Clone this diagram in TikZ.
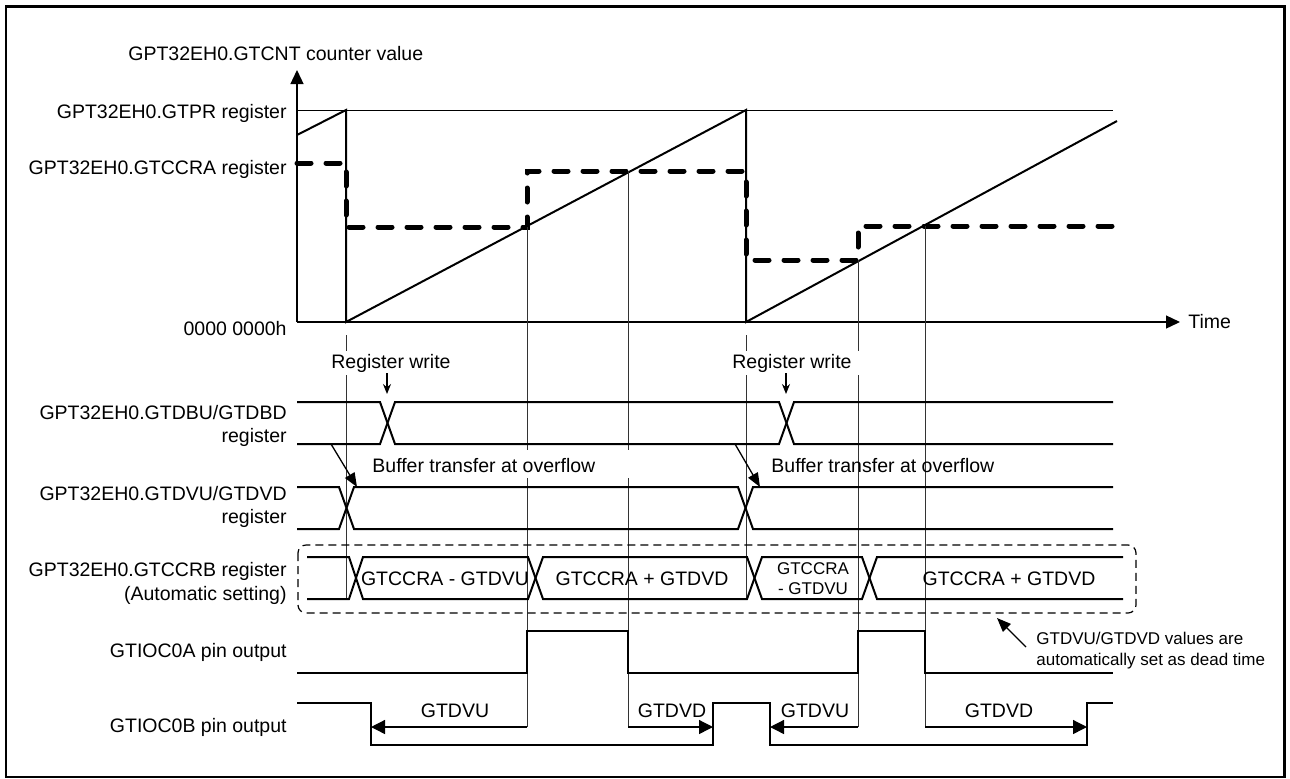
\documentclass[tikz,border=0pt]{standalone}
\usepackage{fontspec}
\setmainfont{Liberation Sans}
\usetikzlibrary{arrows.meta, positioning}

\begin{document}
\begin{tikzpicture}[
    x=0.5pt, y=-0.5pt,
    lbl/.style={inner sep=0pt, font=\fontsize{9.75pt}{11.5pt}\selectfont},
    smalllbl/.style={inner sep=0pt, font=\fontsize{8.5pt}{9.8pt}\selectfont},
    sig/.style={line width=1pt},
    guide/.style={line width=0.5pt, black!80},
    ccra/.style={line width=2.5pt, line cap=round, dash pattern=on 7pt off 7.5pt},
    axisline/.style={line width=0.65pt, -{Triangle[length=7pt, width=6.5pt]}},
    dimarrow/.style={line width=0.65pt, -{Triangle[length=7pt, width=7pt]}},
    ptr/.style={line width=0.65pt, -{Triangle[length=7pt, width=5.5pt]}},
    wrarrow/.style={line width=0.65pt, -{Stealth[length=5pt, width=4pt]}},
    autobox/.style={line width=0.6pt, dash pattern=on 4pt off 2.5pt, rounded corners=4pt}
]
\useasboundingbox (0,0) rectangle (1290,778);
\draw[line width=1.2pt] (6,6.5) rectangle (1284.5,777);

% Coordinates
\coordinate (origin) at (297,322);
\coordinate (ytop) at (297,70);
\coordinate (xend) at (1180,322);

% Nodes
\node[lbl, anchor=base west] (cntlbl) at (128,60) {GPT32EH0.GTCNT counter value};
\node[lbl, anchor=base east] (gtpr) at (287,118) {GPT32EH0.GTPR register};
\node[lbl, anchor=base east] (gtccra) at (287,174) {GPT32EH0.GTCCRA register};
\node[lbl, anchor=base east] (zero) at (287,335) {0000 0000h};
\node[lbl, anchor=base west] (time) at (1188,328) {Time};

\node[lbl, anchor=base east, align=right] (dbu) at (287,442) {GPT32EH0.GTDBU/GTDBD\\register};
\node[lbl, anchor=base east, align=right] (dvu) at (287,523) {GPT32EH0.GTDVU/GTDVD\\register};
\node[lbl, anchor=base east, align=right, font=\fontsize{9.75pt}{12pt}\selectfont] (ccrb) at (287,600) {GPT32EH0.GTCCRB register\\(Automatic setting)};
\node[lbl, anchor=base east] (ioa) at (287,657) {GTIOC0A pin output};
\node[lbl, anchor=base east] (iob) at (287,732) {GTIOC0B pin output};

% Counter, compare value and guides
\draw[line width=0.5pt] (297,110) -- (1113,110);
\draw[sig] (297,135) -- (346,110) -- (346,322) -- (746,110) -- (746,322) -- (1117,121);
\draw[ccra] (297,163) -- (346,163) -- (346,227) -- (527,227) -- (527,171) -- (746,171)
    -- (746,260) -- (858,260) -- (858,226) -- (1113,226);
\draw[axisline] (origin) -- (ytop);
\draw[axisline] (origin) -- (xend);

\draw[guide] (346,335) -- (346,600);
\draw[guide] (746,335) -- (746,600);
\draw[guide] (527,227) -- (527,450) (527,478) -- (527,727);
\draw[guide] (628,171) -- (628,450) (628,478) -- (628,727);
\draw[guide] (858,260) -- (858,727);
\draw[guide] (925,226) -- (925,727);

% Register write
\node[lbl, anchor=base, fill=white, inner xsep=4pt, inner ysep=1.5pt] (wr1) at (391,368) {Register write};
\node[lbl, anchor=base, fill=white, inner xsep=4pt, inner ysep=1.5pt] (wr2) at (792,368) {Register write};
\coordinate (wr1s) at (387,373);
\coordinate (wr1e) at (387,394);
\coordinate (wr2s) at (786,373);
\coordinate (wr2e) at (786,394);
\draw[wrarrow] (wr1s) -- (wr1e);
\draw[wrarrow] (wr2s) -- (wr2e);

% Buffer rows
\draw[sig] (297,402) -- (380,402) -- (395,444) -- (779,444) -- (794,402) -- (1113,402);
\draw[sig] (297,444) -- (380,444) -- (395,402) -- (779,402) -- (794,444) -- (1113,444);
\draw[sig] (297,487) -- (339,487) -- (354,529) -- (738,529) -- (753,487) -- (1113,487);
\draw[sig] (297,529) -- (339,529) -- (354,487) -- (738,487) -- (753,529) -- (1113,529);

\node[lbl, anchor=base west] (buf1) at (372,472) {Buffer transfer at overflow};
\node[lbl, anchor=base west] (buf2) at (771,472) {Buffer transfer at overflow};
\coordinate (buf1s) at (331,444);
\coordinate (buf1e) at (357,487);
\coordinate (buf2s) at (735,444);
\coordinate (buf2e) at (760,487);
\draw[ptr] (buf1s) -- (buf1e);
\draw[ptr] (buf2s) -- (buf2e);

% GTCCRB
\draw[autobox] (298,545) rectangle (1136,613);
\draw[sig] (307,557) -- (349,557) -- (363,599) -- (528,599) -- (543,557) -- (747,557)
    -- (762,599) -- (862,599) -- (877,557) -- (1123,557);
\draw[sig] (307,599) -- (349,599) -- (363,557) -- (528,557) -- (543,599) -- (747,599)
    -- (762,557) -- (862,557) -- (877,599) -- (1123,599);
\node[lbl, anchor=base] (ccrb1) at (445,585) {GTCCRA - GTDVU};
\node[lbl, anchor=base] (ccrb2) at (642,585) {GTCCRA + GTDVD};
\node[smalllbl, anchor=base, align=center] (ccrb3) at (813,594) {GTCCRA\\- GTDVU};
\node[lbl, anchor=base] (ccrb4) at (1009,585) {GTCCRA + GTDVD};

\node[smalllbl, anchor=west, align=left, font=\fontsize{8.5pt}{10.5pt}\selectfont] (deadnote) at (1036,651)
    {GTDVU/GTDVD values are\\automatically set as dead time};
\coordinate (deadtip) at (997,618);
\draw[ptr] ([xshift=-5pt, yshift=2pt]deadnote.west) -- (deadtip);

% Pin outputs
\draw[sig] (297,673) -- (527,673) -- (527,631) -- (628,631) -- (628,673) -- (858,673)
    -- (858,631) -- (925,631) -- (925,673) -- (1113,673);
\draw[sig] (297,703) -- (371,703) -- (371,745) -- (713,745) -- (713,703) -- (770,703)
    -- (770,745) -- (1087,745) -- (1087,703) -- (1113,703);

\draw[dimarrow] (527,727) -- (371,727);
\draw[dimarrow] (628,727) -- (713,727);
\draw[dimarrow] (858,727) -- (770,727);
\draw[dimarrow] (925,727) -- (1087,727);
\node[lbl, anchor=base] (dvu1) at (455,717) {GTDVU};
\node[lbl, anchor=base] (dvd1) at (672,717) {GTDVD};
\node[lbl, anchor=base] (dvu2) at (815,717) {GTDVU};
\node[lbl, anchor=base] (dvd2) at (999,717) {GTDVD};

\end{tikzpicture}
\end{document}
